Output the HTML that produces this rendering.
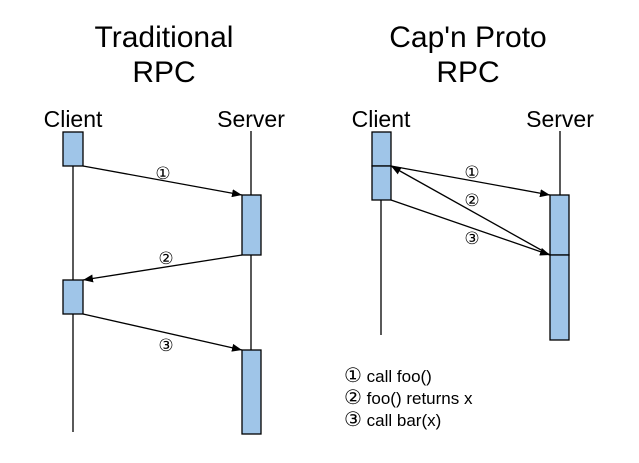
<!DOCTYPE html>
<html><head><meta charset="utf-8"><style>body{margin:0;background:#fff}svg{display:block}</style></head><body>
<svg width="639" height="463" viewBox="0 0 639 463" xmlns="http://www.w3.org/2000/svg" font-family="Liberation Sans, DejaVu Sans, sans-serif">
<defs><marker id="a" markerWidth="10" markerHeight="8" refX="10" refY="4" orient="auto" markerUnits="userSpaceOnUse"><path d="M0,0 L10,4 L0,8 z" fill="#000"/></marker></defs>
<g font-size="30" text-anchor="middle" fill="#000">
<text x="164" y="47">Traditional</text><text x="164" y="82">RPC</text>
<text x="468" y="47">Cap'n Proto</text><text x="468" y="82">RPC</text>
</g>
<g font-size="23" text-anchor="middle">
<text x="73" y="127">Client</text><text x="251" y="127">Server</text>
<text x="381" y="127">Client</text><text x="560" y="127">Server</text>
</g>
<g stroke="#000" stroke-width="1.3" fill="none">
<line x1="73" y1="132" x2="73" y2="432"/><line x1="251" y1="131" x2="251" y2="434"/>
<line x1="381" y1="132" x2="381" y2="335"/><line x1="560" y1="131" x2="560" y2="340"/>
</g>
<g fill="#9fc5e8" stroke="#000" stroke-width="1.3">
<rect x="63" y="132" width="20" height="34"/><rect x="242" y="195" width="19" height="60"/>
<rect x="63" y="280" width="20" height="34"/><rect x="242" y="350" width="19" height="84"/>
<rect x="372" y="132" width="19" height="34"/><rect x="372" y="166" width="19" height="34"/>
<rect x="550" y="195" width="19" height="60"/><rect x="550" y="255" width="19" height="85"/>
</g>
<g stroke="#000" stroke-width="1.3" marker-end="url(#a)">
<line x1="83" y1="166" x2="242" y2="195"/><line x1="242" y1="255" x2="83" y2="280"/><line x1="83" y1="314" x2="242" y2="350"/>
<line x1="391" y1="166" x2="550" y2="195"/><line x1="550" y1="255" x2="391" y2="166"/><line x1="391" y1="200" x2="550" y2="255"/>
</g>
<g font-size="17" text-anchor="middle" font-family="DejaVu Sans, sans-serif">
<text x="163" y="179">①</text><text x="166" y="264">②</text><text x="166" y="351">③</text>
<text x="472" y="178">①</text><text x="472" y="206">②</text><text x="472" y="244">③</text>
</g>
<g font-size="17">
<text x="344" y="382"><tspan font-family="DejaVu Sans, sans-serif" font-size="20">①</tspan> call foo()</text>
<text x="344" y="404"><tspan font-family="DejaVu Sans, sans-serif" font-size="20">②</tspan> foo() returns x</text>
<text x="344" y="426"><tspan font-family="DejaVu Sans, sans-serif" font-size="20">③</tspan> call bar(x)</text>
</g>
</svg>
</body></html>
